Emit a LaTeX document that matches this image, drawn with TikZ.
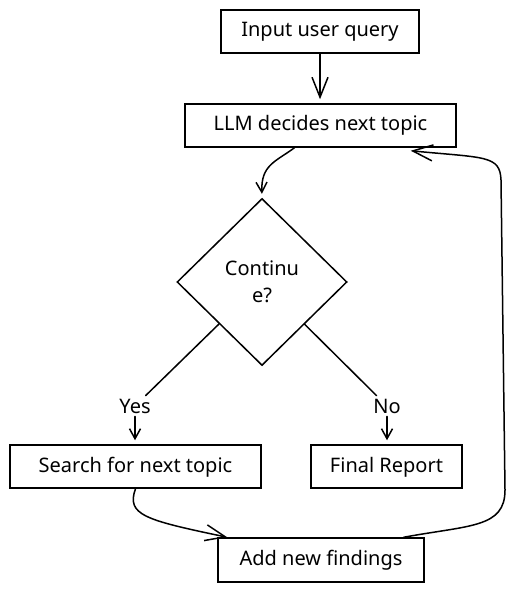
\documentclass[tikz,border=0pt]{standalone}
\usepackage{fontspec}
\setmainfont{Noto Sans}
\usetikzlibrary{shapes.geometric,arrows.meta}
\begin{document}
\begin{tikzpicture}[x=1pt,y=-1pt,
  txt/.style={font=\fontsize{20}{27}\selectfont},
  box/.style={txt,draw,line width=1.5pt,minimum height=43pt,inner sep=0pt,text height=14pt,text depth=3pt},
  dia/.style={txt,draw,line width=1.5pt,diamond,minimum width=170pt,minimum height=167pt,inner sep=0pt,align=center},
  lbl/.style={txt,inner sep=3pt},
  conn/.style={line width=1.5pt,line cap=round,line join=round},
  bigtip/.style={-{Straight Barb[length=20pt,width=16pt,line width=1.5pt]}},
  smalltip/.style={-{Straight Barb[length=10pt,width=11pt,line width=1.5pt]}}
]
\useasboundingbox[fill=white] (0,0) rectangle (518,593);
\node[box,minimum width=198pt] (input) at (320,31.5) {Input user query};
\node[box,minimum width=271pt] (llm) at (320.5,125.5) {LLM decides next topic};
\node[dia] (dec) at (262,282) {Continu\\e?};
\node[lbl] (yes) at (135,406) {Yes};
\node[lbl] (no) at (387,406) {No};
\node[box,minimum width=251pt] (search) at (135.5,466.5) {Search for next topic};
\node[box,minimum width=151pt] (final) at (386.5,466.5) {Final Report};
\node[box,minimum width=206pt,minimum height=44pt] (add) at (321,560) {Add new findings};

\draw[conn,bigtip,shorten >=4pt] (input.south) -- (input.south |- llm.north);
\draw[conn,smalltip,shorten >=4pt] ([xshift=-26pt]llm.south) .. controls (275,162) and (261,165) .. (dec.north);
\draw[conn] (dec) -- (yes);
\draw[conn] (dec) -- (no);
\draw[conn,smalltip,shorten >=4pt] (yes.south) -- (search.north -| yes.south);
\draw[conn,smalltip,shorten >=4pt] (no.south) -- (final.north -| no.south);
\draw[conn,bigtip] (search.south) .. controls (126,515) and (145,520) .. ([xshift=10pt]add.north west);
\draw[conn,bigtip] ([xshift=-21pt]add.north east) .. controls (470,525) and (505,528) .. (505,490) -- (501,180) .. controls (500,155) and (485,158) .. ([xshift=-46pt,yshift=-3pt]llm.south east);
\end{tikzpicture}
\end{document}
